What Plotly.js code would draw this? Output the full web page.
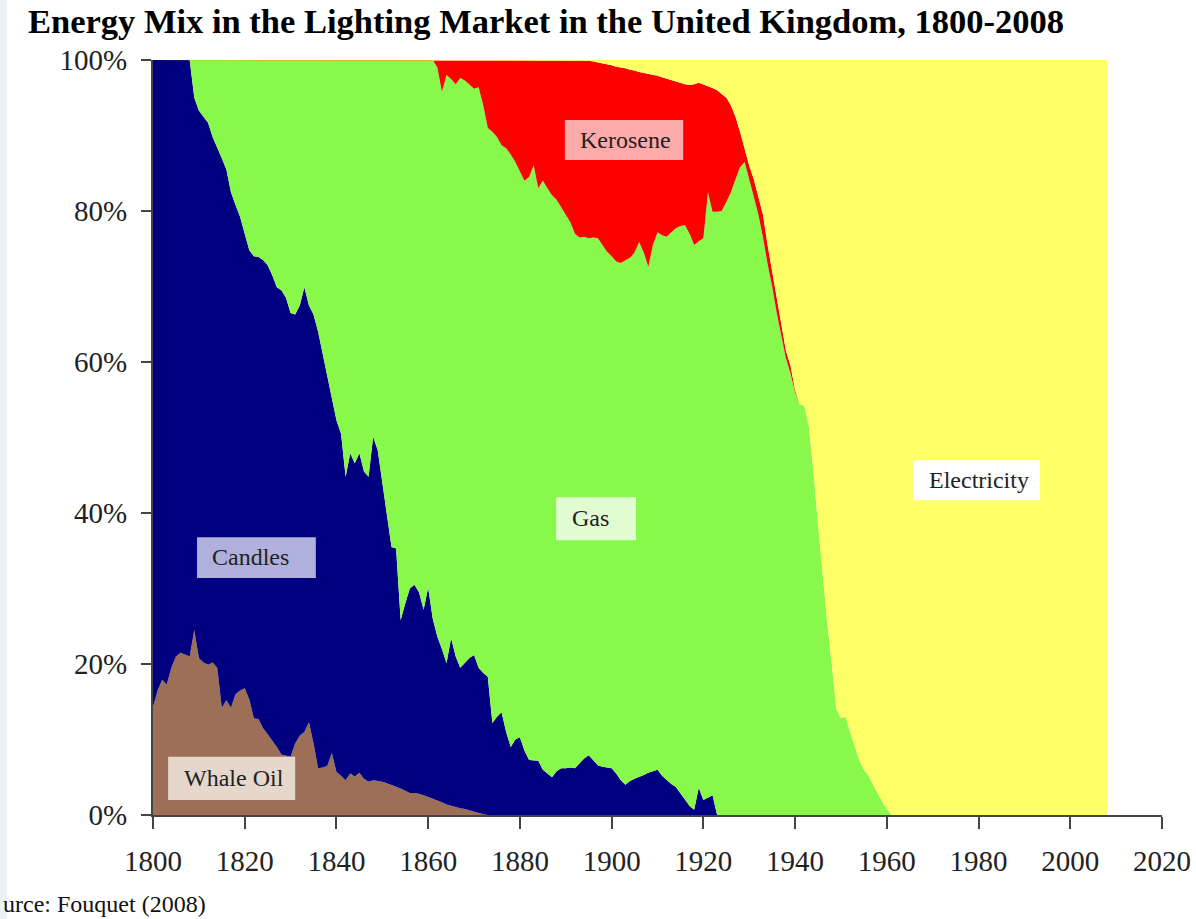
<!DOCTYPE html>
<html>
<head>
<meta charset="utf-8">
<script src="https://cdn.plot.ly/plotly-3.0.1.min.js"></script>
<style>
  html, body { margin: 0; padding: 0; background: #ffffff; }
  #chart { width: 1196px; height: 919px; }
</style>
</head>
<body>
<div id="chart"></div>
<script>
// ---- Data (share of lighting market, %) ----
const years = [
  1800,1801,1802,1803,1804,1805,1806,1807,1808,1809,
  1810,1811,1812,1813,1814,1815,1816,1817,1818,1819,
  1820,1821,1822,1823,1824,1825,1826,1827,1828,1829,
  1830,1831,1832,1833,1834,1835,1836,1837,1838,1839,
  1840,1841,1842,1843,1844,1845,1846,1847,1848,1849,
  1850,1851,1852,1853,1854,1855,1856,1857,1858,1859,
  1860,1861,1862,1863,1864,1865,1866,1867,1868,1869,
  1870,1871,1872,1873,1874,1875,1876,1877,1878,1879,
  1880,1881,1882,1883,1884,1885,1886,1887,1888,1889,
  1890,1891,1892,1893,1894,1895,1896,1897,1898,1899,
  1900,1901,1902,1903,1904,1905,1906,1907,1908,1909,
  1910,1911,1912,1913,1914,1915,1916,1917,1918,1919,
  1920,1921,1922,1923,1924,1925,1926,1927,1928,1929,
  1930,1931,1932,1933,1934,1935,1936,1937,1938,1939,
  1940,1941,1942,1943,1944,1945,1946,1947,1948,1949,
  1950,1951,1952,1953,1954,1955,1956,1957,1958,1959,
  1960,1961,
  2008
];

const whaleOil = [
  14.3,16.5,17.9,17.3,19.5,21,21.5,21.3,21,24.5,
  20.8,20.2,19.9,20.2,19.5,14.2,15.2,14.2,16,16.5,
  16.8,15.3,12.8,12.7,11.5,10.7,9.9,9,8,7.8,
  7.7,9.5,10.5,11,12.3,9.5,6.2,6.3,6.5,8.2,
  5.7,5.2,4.6,5.5,5.1,5.6,4.8,4.4,4.6,4.5,
  4.4,4.2,4.0,3.7,3.5,3.2,2.9,2.9,2.8,2.6,
  2.4,2.2,2.0,1.7,1.4,1.2,1.1,0.9,0.8,0.6,
  0.4,0.3,0.1,0,0,0,0,0,0,0,
  0,0,0,0,0,0,0,0,0,0,
  0,0,0,0,0,0,0,0,0,0,
  0,0,0,0,0,0,0,0,0,0,
  0,0,0,0,0,0,0,0,0,0,
  0,0,0,0,0,0,0,0,0,0,
  0,0,0,0,0,0,0,0,0,0,
  0,0,0,0,0,0,0,0,0,0,
  0,0,0,0,0,0,0,0,0,0,
  0,0,
  0
];

const candles = [
  85.7,83.5,82.1,82.7,80.5,79,78.5,78.7,79,70.5,
  72.5,72.3,71.8,69.6,69.0,72.8,70.3,68.3,64.8,62.7,
  60.2,59.5,61.2,61.2,62.0,62.1,61.6,60.9,61.5,60.7,
  58.8,56.8,57.0,58.9,55.2,56.8,57.8,54.7,51.5,46.8,
  46.6,45.3,40.2,42.4,41.5,42.3,40.7,40.4,45.5,43.8,
  39.6,35.3,31.5,31.6,22.3,24.8,27.1,27.6,26.7,24.6,
  27.7,23.8,21.6,20.3,18.7,22.2,19.9,18.6,19.3,20.2,
  20.8,19.2,18.7,18.3,12.2,13,13.6,11,9.0,10,
  10.3,8.5,7.3,7.2,7.2,6,5.5,5.0,5.8,6.2,
  6.2,6.3,6.2,6.8,7.5,7.9,7.2,6.6,6.4,6.3,
  6.2,5.5,4.6,4.0,4.5,4.8,5.0,5.3,5.6,5.8,
  6.0,5.2,4.6,4.1,3.7,2.9,2.0,1.2,0.7,3.6,
  2.0,2.3,2.6,0,0,0,0,0,0,0,
  0,0,0,0,0,0,0,0,0,0,
  0,0,0,0,0,0,0,0,0,0,
  0,0,0,0,0,0,0,0,0,0,
  0,0,
  0
];

const gas = [
  0,0,0,0,0,0,0,0,0,5,
  6.7,7.5,8.3,10.2,11.5,13,14.5,17.5,19.2,20.8,
  23,25.2,26,26.1,26.5,27.2,28.5,30.1,30.5,31.5,
  33.5,33.7,32.5,30.1,32.5,33.7,36,39,42,45,
  47.7,49.5,55.2,52.1,53.4,52.1,54.5,55.2,49.9,51.7,
  56,60.5,64.5,64.7,74.2,72,70,69.5,70.5,72.8,
  69.9,74,75.4,73.8,77.9,74.1,75.8,78.1,77.2,76.0,
  75.0,76.9,75.2,72.7,78.3,76.8,75.1,77.3,78.5,76.5,
  74.9,75.5,77.2,78.9,75.8,78,77.5,77.1,75.7,74.3,
  73.3,72.2,70.8,69.7,69.1,68.5,69.3,69.8,69.1,68.3,
  67.8,67.8,68.5,69.4,69.3,69.7,70.9,69.2,67.0,69.7,
  71.2,71.6,72.0,73.1,74.0,75.1,76.1,75.8,74.8,72.4,
  74.4,80.2,77.3,79.9,80,81.2,82.5,84.2,85.8,86.5,
  84,81.9,79.5,76.5,73,70,66.5,63.5,60.5,58.5,
  56,54.4,54.2,51.5,45.5,38.5,31.5,25.5,20,14,
  12.8,13,11,9,7.3,6,5.2,4,2.8,1.8,
  0.8,0,
  0
];

const kerosene = [
  0,0,0,0,0,0,0,0,0,0,
  0,0,0,0,0,0,0,0,0,0,
  0,0,0,0,0,0,0,0,0,0,
  0,0,0,0,0,0,0,0,0,0,
  0,0,0,0,0,0,0,0,0,0,
  0,0,0,0,0,0,0,0,0,0,
  0,0,1,4.2,2,2.5,3.2,2.4,2.7,3.2,
  3.8,3.6,6,9,9.5,10.2,11.3,11.7,12.5,13.5,
  14.8,16,15.5,13.9,17,16,17,17.9,18.5,19.5,
  20.5,21.5,23,23.5,23.4,23.5,23.3,23.3,24.1,24.9,
  25.3,25.8,25.9,25.5,24.9,24.1,22.5,23.8,25.5,22.5,
  20.7,20.9,20.9,20.2,19.5,19.0,18.7,19.7,21.3,21,
  20.4,14.1,16.4,16.1,15.5,13.8,11.5,8.3,4.7,1.7,
  2,2.3,2.5,3,2.5,2,1.5,1.2,1.0,1.0,
  0.3,0,0,0,0,0,0,0,0,0,
  0,0,0,0,0,0,0,0,0,0,
  0,0,
  0
];

const electricity = [
  0,0,0,0,0,0,0,0,0,0,
  0,0,0,0,0,0,0,0,0,0,
  0,0,0,0,0,0,0,0,0,0,
  0,0,0,0,0,0,0,0,0,0,
  0,0,0,0,0,0,0,0,0,0,
  0,0,0,0,0,0,0,0,0,0,
  0,0,0,0,0,0,0,0,0,0,
  0,0,0,0,0,0,0,0,0,0,
  0,0,0,0,0,0,0,0,0,0,
  0,0,0,0,0,0.1,0.2,0.3,0.4,0.5,
  0.7,0.9,1.0,1.1,1.3,1.4,1.6,1.7,1.9,2.0,
  2.1,2.3,2.5,2.6,2.8,3.0,3.2,3.3,3.2,3,
  3.2,3.4,3.7,4.0,4.5,5.0,6,7.5,9.5,11.8,
  14,15.8,18,20.5,24.5,28,32,35.3,38.5,40.5,
  43.7,45.6,45.8,48.5,54.5,61.5,68.5,74.5,80,86,
  87.2,87,89,91,92.7,94,94.8,96,97.2,98.2,
  99.2,100,
  100
];

const seriesNames = ['Whale Oil', 'Candles', 'Gas', 'Kerosene', 'Electricity'];
const xTicks = [1800,1820,1840,1860,1880,1900,1920,1940,1960,1980,2000,2020];
const yTicks = [0,20,40,60,80,100];
const sourceText = 'urce: Fouquet (2008)';

// ---- Styling ----
const colors = ['#9c6f56', '#000080', '#88f84a', '#ff0000', '#ffff66'];
const boxColors = ['#e6d7cd', '#b0b0dc', '#e2fcd2', '#ffaaaa', '#ffffff'];
const serif = '"Liberation Serif", "Times New Roman", Times, serif';

const values = [whaleOil, candles, gas, kerosene, electricity];
const traces = values.map((v, i) => ({
  x: years,
  y: v,
  name: seriesNames[i],
  type: 'scatter',
  mode: 'lines',
  stackgroup: 'one',
  line: { width: 0, color: colors[i] },
  fillcolor: colors[i],
  hoverinfo: 'skip'
}));

// label boxes (in data coordinates) and text anchor positions
const labelBoxes = [
  { name: 'Whale Oil',   x0: 1803.3, x1: 1831.0, y0: 2.0,  y1: 7.7,  tx: 1806.3, ty: 4.9 },
  { name: 'Candles',     x0: 1809.6, x1: 1835.5, y0: 31.4, y1: 36.8, tx: 1812.4, ty: 34.2 },
  { name: 'Gas',         x0: 1887.9, x1: 1905.3, y0: 36.4, y1: 42.1, tx: 1890.9, ty: 39.3 },
  { name: 'Kerosene',    x0: 1889.8, x1: 1915.6, y0: 86.75, y1: 92.05, tx: 1892.7, ty: 89.4 },
  { name: 'Electricity', x0: 1965.7, x1: 1993.4, y0: 41.7, y1: 47.0, tx: 1968.8, ty: 44.4 }
];

const shapes = labelBoxes.map((b) => ({
  type: 'rect', xref: 'x', yref: 'y',
  x0: b.x0, x1: b.x1, y0: b.y0, y1: b.y1,
  fillcolor: boxColors[seriesNames.indexOf(b.name)],
  line: { width: 0 },
  layer: 'above'
}));
// faint strip at left edge of the screenshot
shapes.push({
  type: 'rect', xref: 'paper', yref: 'paper',
  x0: -153/1009, x1: -146/1009, y0: -104/755, y1: 860/755,
  fillcolor: '#e9f3f7', line: { width: 0 }, layer: 'below'
});

const annotations = labelBoxes.map((b) => ({
  x: b.tx, y: b.ty, xref: 'x', yref: 'y',
  text: b.name, showarrow: false,
  xanchor: 'left', yanchor: 'middle',
  font: { family: serif, size: 24, color: '#222222' }
}));
annotations.push({
  xref: 'paper', yref: 'paper',
  x: -152/1009, y: -89/755,
  xanchor: 'left', yanchor: 'middle',
  text: sourceText, showarrow: false,
  font: { family: serif, size: 24, color: '#111111' }
});

const layout = {
  width: 1196, height: 919,
  margin: { l: 153, r: 34, t: 60, b: 104, pad: 0 },
  paper_bgcolor: '#ffffff',
  plot_bgcolor: '#ffffff',
  showlegend: false,
  title: {
    text: '<b>Energy Mix in the Lighting Market in the United Kingdom, 1800-2008</b>',
    font: { family: serif, size: 34.5, color: '#000000' },
    x: 546/1196, xanchor: 'center', xref: 'container',
    y: 1 - 21/919, yanchor: 'middle', yref: 'container'
  },
  xaxis: {
    range: [1800, 2020],
    tickvals: xTicks,
    ticktext: xTicks.map(String),
    ticks: 'outside', ticklen: 12, tickwidth: 2, tickcolor: '#444444',
    showline: true, linecolor: '#444444', linewidth: 2,
    showgrid: false, zeroline: false,
    ticklabelstandoff: 7,
    tickfont: { family: serif, size: 29, color: '#222222' },
    fixedrange: true
  },
  yaxis: {
    range: [0, 100],
    tickvals: yTicks,
    ticktext: yTicks.map(v => v + '%'),
    ticks: 'outside', ticklen: 10, tickwidth: 2, tickcolor: '#444444',
    showline: true, linecolor: '#444444', linewidth: 2,
    showgrid: false, zeroline: false,
    ticklabelstandoff: 8,
    tickfont: { family: serif, size: 29, color: '#222222' },
    fixedrange: true
  },
  shapes: shapes,
  annotations: annotations
};

Plotly.newPlot('chart', traces, layout, { staticPlot: true, displayModeBar: false });
</script>
</body>
</html>
